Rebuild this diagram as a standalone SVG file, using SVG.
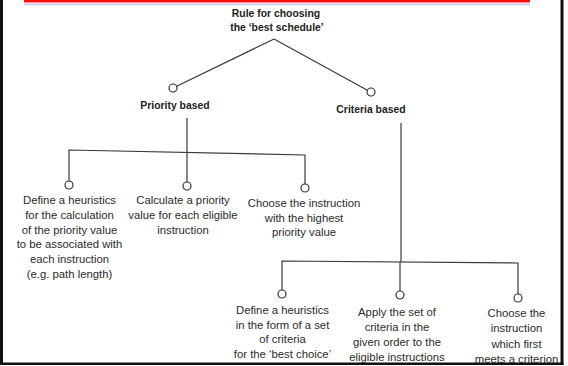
<svg xmlns="http://www.w3.org/2000/svg" width="568" height="366" viewBox="0 0 568 366">
<style>
.t{font-family:"Liberation Sans",Arial,sans-serif;font-size:11.3px;fill:#2b2b2b;text-anchor:middle}
.b{font-family:"Liberation Sans",Arial,sans-serif;font-size:10.4px;font-weight:bold;fill:#222;text-anchor:middle}
.c{fill:#fff;stroke:#333;stroke-width:1.2}
.l{fill:none;stroke:#3a3a3a;stroke-width:1.2}
</style>
<rect width="568" height="366" fill="#fff"/>
<rect x="24" y="0" width="506" height="2.2" fill="#ff1010"/>
<rect x="24" y="2.2" width="506" height="1" fill="#ff8080"/>
<rect x="24" y="4" width="506" height="1.2" fill="#c4c4ff"/>
<g id="connectors">
<path class="l" d="M274 39 L176.6 86.2"/>
<path class="l" d="M274 39 L367.4 90.2"/>
<path class="l" d="M187 118 V182"/>
<path class="l" d="M69 181 V150 L305 155 V184"/>
<path class="l" d="M401 123 V262"/>
<path class="l" d="M282 290 V261 L518 263 V294"/>
<path class="l" d="M400 262 V291"/>
</g>
<g id="root">
<text class="b" x="276" y="17">Rule for choosing</text>
<text class="b" x="277" y="31">the ‘best schedule’</text>
</g>
<g id="priority">
<circle class="c" cx="173" cy="88" r="4"/>
<text class="b" x="175" y="109">Priority based</text>
</g>
<g id="criteria">
<circle class="c" cx="371" cy="92" r="4"/>
<text class="b" x="371" y="113">Criteria based</text>
</g>
<g id="p1">
<circle class="c" cx="69" cy="185" r="4"/>
<text class="t" x="69.5" y="204">Define a heuristics</text>
<text class="t" x="69.5" y="219">for the calculation</text>
<text class="t" x="69.5" y="233.5">of the priority value</text>
<text class="t" x="69.5" y="248">to be associated with</text>
<text class="t" x="69.5" y="263">each instruction</text>
<text class="t" x="69.5" y="277.5">(e.g. path length)</text>
</g>
<g id="p2">
<circle class="c" cx="187" cy="186" r="4"/>
<text class="t" x="183" y="204">Calculate a priority</text>
<text class="t" x="183" y="219">value for each eligible</text>
<text class="t" x="183" y="233.5">instruction</text>
</g>
<g id="p3">
<circle class="c" cx="305" cy="188" r="4"/>
<text class="t" x="304" y="206.5">Choose the instruction</text>
<text class="t" x="304" y="221.5">with the highest</text>
<text class="t" x="304" y="236">priority value</text>
</g>
<g id="c1">
<circle class="c" cx="282" cy="294" r="4"/>
<text class="t" x="282.5" y="314">Define a heuristics</text>
<text class="t" x="282.5" y="328.5">in the form of a set</text>
<text class="t" x="282.5" y="343">of criteria</text>
<text class="t" x="282.5" y="357.5">for the ‘best choice’</text>
</g>
<g id="c2">
<circle class="c" cx="400" cy="295" r="4"/>
<text class="t" x="397" y="316">Apply the set of</text>
<text class="t" x="397" y="331">criteria in the</text>
<text class="t" x="397" y="346">given order to the</text>
<text class="t" x="397" y="361">eligible instructions</text>
</g>
<g id="c3">
<circle class="c" cx="518" cy="298" r="4"/>
<text class="t" x="516.5" y="317">Choose the</text>
<text class="t" x="516.5" y="332">instruction</text>
<text class="t" x="516.5" y="347.5">which first</text>
<text class="t" x="516.5" y="363">meets a criterion</text>
</g>
<g id="frame" fill="#111">
<rect x="0" y="0" width="3" height="365"/>
<rect x="560.5" y="0" width="3" height="365"/>
<rect x="0" y="362.5" width="563.5" height="2.5"/>
</g>
</svg>
